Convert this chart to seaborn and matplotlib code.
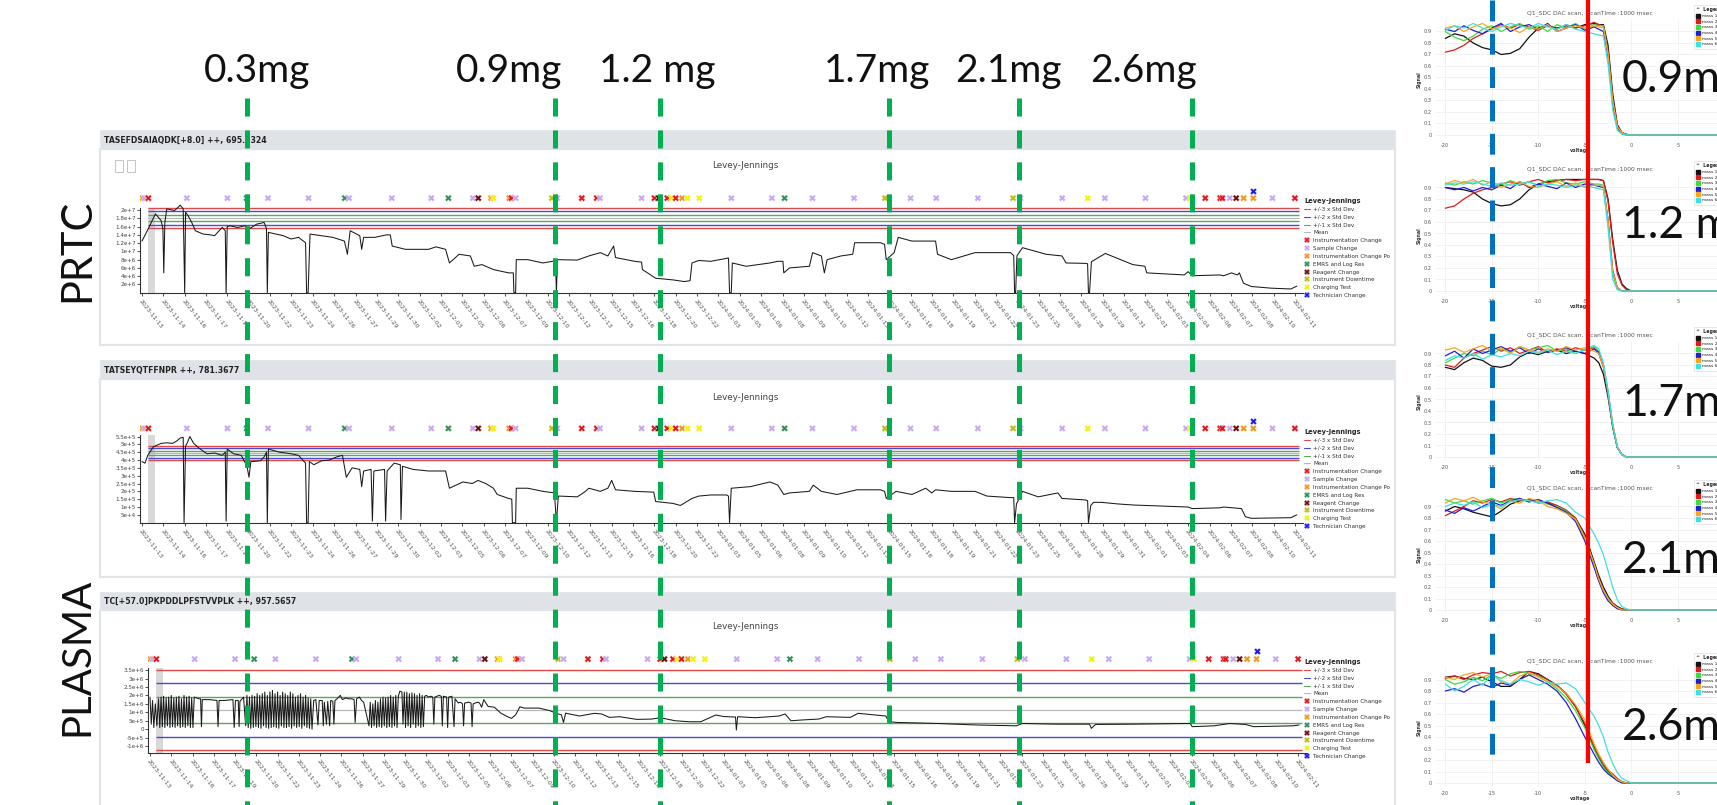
import numpy as np
import pandas as pd
import matplotlib
matplotlib.use("Agg")
import matplotlib.pyplot as plt
from matplotlib.patches import Rectangle
from matplotlib.lines import Line2D
import seaborn as sns

# ---------------- data ----------------
DATES = ["2023-11-13","2023-11-14","2023-11-16","2023-11-17","2023-11-19","2023-11-20","2023-11-22",
         "2023-11-23","2023-11-24","2023-11-26","2023-11-27","2023-11-29","2023-11-30","2023-12-02",
         "2023-12-03","2023-12-05","2023-12-06","2023-12-07","2023-12-09","2023-12-10","2023-12-12",
         "2023-12-13","2023-12-15","2023-12-16","2023-12-18","2023-12-20","2023-12-22","2024-01-03",
         "2024-01-05","2024-01-06","2024-01-08","2024-01-09","2024-01-10","2024-01-12","2024-01-13",
         "2024-01-15","2024-01-16","2024-01-18","2024-01-19","2024-01-21","2024-01-22","2024-01-23",
         "2024-01-25","2024-01-26","2024-01-28","2024-01-29","2024-01-31","2024-02-01","2024-02-03",
         "2024-02-04","2024-02-06","2024-02-07","2024-02-08","2024-02-10","2024-02-11"]

PANEL_TITLES = ["TASEFDSAIAQDK[+8.0] ++, 695.8324", "TATSEYQTFFNPR ++, 781.3677",
                "TC[+57.0]PKPDDLPFSTVVPLK ++, 957.5657"]

# Panel 1 (x = run index, y in units of 1e6)
P1_X = [0.00,0.36,0.63,0.89,0.98,1.02,1.07,1.16,1.52,1.70,1.79,1.93,2.00,2.04,2.15,2.33,2.50,2.86,3.22,3.40,
        3.76,3.90,3.94,3.99,4.11,4.47,4.83,5.01,5.37,5.72,5.83,5.87,5.92,6.62,6.98,7.33,7.66,7.71,7.78,7.87,
        8.41,8.94,9.48,9.62,9.75,10.20,10.29,10.38,10.91,11.45,11.63,11.72,12.34,13.42,13.77,14.22,14.40,
        14.85,15.38,15.56,15.92,16.46,17.17,17.39,17.42,17.50,17.53,18.07,18.78,19.23,19.37,19.41,19.46,
        20.39,20.93,21.47,21.82,22.09,22.18,23.08,23.40,23.44,24.06,24.87,25.40,25.67,25.76,26.08,
        26.64,27.47,27.52,27.60,27.65,28.30,29.41,29.78,30.02,30.06,30.33,31.26,31.41,31.82,31.96,32.09,
        32.74,33.29,33.38,34.59,34.78,34.86,35.23,35.42,36.06,37.17,37.26,37.91,39.02,40.68,40.83,40.87,
        40.92,40.98,41.24,42.35,43.09,43.28,44.20,44.29,44.33,44.38,44.47,45.12,46.41,46.97,47.06,48.82,
        49.00,49.19,50.48,50.66,51.03,51.31,51.40,51.59,51.96,52.88,53.81,54.09]
P1_Y = [12.5,16.2,19.1,17.5,15.5,4.8,17.0,20.3,19.9,20.7,21.2,20.3,0.0,19.5,18.7,17.0,15.0,14.2,14.0,13.8,
        15.8,15.0,0.0,16.0,16.2,15.8,16.2,15.4,16.6,17.0,15.5,0.0,14.6,13.8,13.0,13.4,12.1,0.0,0.0,14.2,
        13.8,13.4,12.5,9.3,15.0,13.8,10.5,13.4,13.4,14.0,14.0,11.3,10.5,10.5,11.1,10.5,7.2,
        9.3,8.9,6.4,6.8,5.6,4.8,4.8,0.0,0.0,8.0,8.0,7.2,7.6,7.6,0.0,8.0,
        7.9,8.9,9.7,8.9,11.3,8.5,7.6,7.4,5.6,3.5,3.1,2.7,2.9,7.2,7.8,
        7.6,8.4,0.0,0.0,7.2,6.4,7.2,7.6,7.6,4.8,6.0,6.4,9.7,8.9,4.8,8.0,
        8.9,9.3,12.1,12.1,11.7,8.0,9.7,13.4,12.5,12.5,9.3,8.0,9.7,9.7,9.0,0.0,
        0.0,8.9,10.9,9.3,8.9,7.2,7.1,7.0,0.0,0.0,7.5,9.5,6.8,6.4,4.8,4.3,
        5.1,4.1,4.3,4.1,4.8,4.3,4.8,2.3,1.5,1.1,0.9,1.6]

# Panel 2 (y in units of 1e5)
P2_X = [0.00,0.14,0.27,0.54,0.89,1.16,1.43,1.61,1.79,1.93,1.97,2.04,2.11,2.24,2.42,2.68,3.04,3.40,3.76,3.90,
        3.94,3.99,4.29,4.65,4.92,5.01,5.10,5.55,5.72,5.83,5.87,5.92,6.44,6.98,7.33,7.66,7.71,7.78,7.84,8.05,
        8.41,8.77,9.12,9.39,9.57,9.84,10.20,10.29,10.38,10.73,10.79,10.86,11.36,11.41,11.48,11.81,12.10,
        12.13,12.20,12.70,13.42,14.22,14.40,15.03,15.47,15.74,15.92,16.10,16.46,16.64,17.17,17.32,17.35,
        17.50,17.53,18.07,18.78,19.32,19.41,19.50,20.39,20.75,20.93,21.47,21.82,22.00,22.18,23.08,23.97,
        24.06,24.87,25.22,25.76,26.08,26.64,27.38,27.47,27.52,27.60,28.49,29.41,29.78,30.06,30.33,31.26,
        31.44,31.82,32.55,33.48,34.59,34.78,34.86,35.32,36.06,36.71,36.99,37.17,37.91,39.02,39.57,40.68,
        40.83,40.87,40.96,41.24,41.98,42.90,43.09,44.20,44.29,44.33,44.44,44.57,44.94,45.68,46.41,49.00,
        49.19,50.48,50.66,51.50,51.68,51.96,53.81,54.09]
P2_Y = [3.9,3.8,4.3,4.85,5.06,5.1,5.06,5.2,5.4,5.45,0.0,4.9,5.06,5.5,5.06,4.75,4.4,4.45,4.3,4.5,
        0.1,4.7,4.4,4.3,3.6,2.9,3.9,3.95,4.2,4.5,0.0,4.7,4.5,4.4,4.3,3.8,0.0,0.0,3.9,3.7,
        3.95,4.0,4.2,4.3,2.9,3.5,3.4,2.3,3.3,3.4,0.1,3.3,3.4,0.1,3.3,3.8,3.7,
        0.2,3.6,3.4,3.3,3.3,2.2,2.6,2.5,2.7,2.6,2.5,2.2,1.8,1.55,1.5,0.0,
        0.0,2.2,2.2,2.0,1.9,0.0,1.7,1.65,1.98,2.2,2.0,2.2,2.7,2.1,2.0,1.95,
        1.35,1.23,1.1,1.55,1.7,1.77,1.77,1.7,0.0,2.2,2.3,2.6,2.4,1.8,1.9,2.0,
        2.4,2.0,1.8,2.1,2.1,2.0,1.55,2.0,1.8,2.2,1.9,2.1,2.0,2.0,1.7,1.6,
        1.6,0.0,1.2,2.0,1.65,1.9,1.55,1.45,1.4,0.0,1.1,1.3,1.3,1.2,1.13,1.0,
        0.9,0.95,1.0,0.9,0.38,0.28,0.32,0.5]

# Panel 3 (y in units of 1e6)
P3_X = [0.00,0.06,0.12,0.18,0.25,0.32,0.40,0.46,0.52,0.58,0.64,0.70,0.76,0.82,0.88,0.94,1.00,1.06,1.12,1.18,
        1.24,1.30,1.36,1.42,1.48,1.54,1.60,1.66,1.72,1.78,1.84,1.90,1.96,2.02,2.08,2.20,2.30,2.38,2.42,2.46,
        2.80,3.15,3.20,3.25,3.50,3.90,3.96,4.02,4.15,4.19,4.23,4.40,4.50,4.56,4.62,4.68,4.74,4.80,4.86,4.92,
        4.98,5.04,5.10,5.16,5.22,5.28,5.34,5.40,5.46,5.52,5.58,5.64,5.70,5.76,5.82,5.88,5.94,6.00,6.06,6.12,
        6.18,6.24,6.30,6.36,6.42,6.48,6.54,6.60,6.66,6.72,6.78,6.84,6.90,6.96,7.02,7.08,7.14,7.20,7.26,7.32,
        7.38,7.44,7.50,7.56,7.62,7.70,7.80,7.90,7.96,8.10,8.15,8.20,8.30,8.36,8.45,8.50,8.60,8.65,8.70,8.80,
        8.95,9.05,9.20,9.35,9.50,9.60,9.65,9.72,9.85,9.95,10.05,10.30,10.36,10.42,10.48,10.54,10.60,10.66,
        10.72,10.78,10.84,10.90,10.96,11.02,11.08,11.14,11.20,11.26,11.32,11.38,11.44,11.50,11.56,11.62,
        11.68,11.75,11.85,11.90,11.96,12.02,12.08,12.14,12.20,12.26,12.32,12.38,12.44,12.50,12.56,12.62,
        12.68,12.74,12.80,12.86,12.92,13.00,13.10,13.20,13.30,13.35,13.40,13.60,13.70,13.75,13.80,13.95,
        14.00,14.05,14.20,14.30,14.35,14.50,14.60,14.70,14.75,14.80,15.00,15.10,15.15,15.20,15.40,15.50,
        15.60,15.70,15.90,16.20,16.50,16.80,17.00,17.20,17.40,17.60,18.30,18.80,19.10,19.35,19.45,19.55,
        20.20,20.90,21.25,21.60,22.10,22.90,23.60,24.00,24.70,25.40,25.90,26.61,26.99,27.54,27.58,27.64,
        28.47,29.59,29.87,30.15,30.71,31.45,31.82,32.94,33.31,34.61,34.76,35.17,37.03,38.89,40.75,41.03,
        42.61,44.19,44.28,44.47,46.33,48.93,49.02,50.05,50.79,51.53,51.91,53.77,54.05]
P3_Y = [1.9,0.3,1.7,0.1,1.5,0.2,1.8,0.1,1.9,0.15,1.95,0.1,1.85,0.2,1.9,0.1,2.0,0.15,1.85,0.1,
        1.9,0.2,1.95,0.1,1.8,0.15,2.0,0.1,1.9,0.2,1.95,0.1,1.85,0.1,1.9,1.85,1.8,1.8,0.15,1.75,
        1.75,1.7,0.15,1.7,1.7,1.75,0.1,1.7,1.7,0.15,1.65,1.9,0.2,2.0,0.1,1.9,0.05,2.0,0.1,1.95,
        0.15,2.1,0.1,2.0,0.05,2.1,0.2,2.2,0.1,2.0,0.05,2.2,0.1,2.3,0.15,2.1,0.1,2.2,0.05,2.0,
        0.2,2.2,0.1,2.1,0.1,2.0,0.15,2.2,0.05,2.1,0.2,1.9,0.1,2.0,0.15,2.1,0.05,1.9,0.2,2.0,
        0.1,1.85,0.05,1.8,0.0,1.7,1.75,0.25,1.7,1.7,0.2,1.6,0.3,1.65,0.2,1.7,1.65,0.3,1.7,1.8,
        2.0,1.75,1.85,1.8,1.8,1.75,0.4,1.8,1.9,1.7,1.6,0.2,1.6,0.1,1.5,0.2,1.7,0.1,
        1.6,0.15,1.8,0.1,1.9,0.2,1.85,0.1,1.9,0.15,2.0,0.1,1.9,0.2,2.0,0.1,
        1.95,2.25,2.2,0.3,2.2,0.1,2.2,0.2,2.1,0.1,2.15,0.3,2.1,0.1,2.0,0.2,
        2.1,0.1,2.0,0.15,1.95,2.0,1.9,1.95,1.9,0.3,1.9,2.0,1.95,0.2,1.95,1.9,
        0.1,1.9,1.95,0.15,1.8,1.55,1.6,1.5,0.2,1.55,1.6,1.55,0.15,1.5,1.6,1.55,
        1.3,1.75,1.35,1.3,0.95,0.75,0.64,0.85,1.33,1.25,1.25,1.1,0.95,0.85,0.4,0.95,
        0.78,0.94,0.9,0.7,0.74,0.58,0.6,0.68,0.5,0.44,0.44,0.84,0.75,0.72,-0.05,0.74,
        0.68,0.78,0.9,0.5,0.55,0.6,0.74,0.7,0.94,0.78,0.44,0.4,0.34,0.25,0.2,0.34,
        0.3,0.3,0.05,0.28,0.3,0.34,0.15,0.2,0.34,0.28,0.15,0.2,0.25]

# Levey-Jennings control limits: mean and standard deviation per panel (same units as series)
LJ_MEAN = [18.1, 4.45, 1.13]
LJ_SD = [0.8, 0.155, 0.79]

P1_YTICKS = [2, 4, 6, 8, 10, 12, 14, 16, 18, 20]
P1_YLABELS = ["2e+6", "4e+6", "6e+6", "8e+6", "1e+7", "1.2e+7", "1.4e+7", "1.6e+7", "1.8e+7", "2e+7"]
P2_YTICKS = [0.5, 1, 1.5, 2, 2.5, 3, 3.5, 4, 4.5, 5, 5.5]
P2_YLABELS = ["5e+4", "1e+5", "1.5e+5", "2e+5", "2.5e+5", "3e+5", "3.5e+5", "4e+5", "4.5e+5", "5e+5", "5.5e+5"]
P3_YTICKS = [-1, -0.5, 0, 0.5, 1, 1.5, 2, 2.5, 3, 3.5]
P3_YLABELS = ["-1e+6", "-5e+5", "0", "5e+5", "1e+6", "1.5e+6", "2e+6", "2.5e+6", "3e+6", "3.5e+6"]

EVENT_POS = [0.02, 0.12, 0.30, 2.1, 4.0, 4.9, 5.9, 7.8, 9.5, 9.7, 11.7, 13.55, 14.35, 15.5, 15.75, 16.35,
             16.45, 17.2, 17.3, 17.5, 19.2, 19.45, 20.6, 21.3, 21.45, 23.4, 24.0, 24.2, 24.6, 24.8, 25.0,
             25.3, 25.55, 26.1, 27.6, 29.5, 30.1, 31.4, 33.35, 34.8, 36.0, 37.2, 39.15, 40.8, 41.15, 43.1,
             44.3, 45.1, 47.0, 48.9, 49.1, 49.8, 50.5, 50.6, 50.95, 51.25, 51.6, 52.05, 52.95, 54.0]
EVENT_TYPE = ["Instrumentation Change Po", "Sample Change", "Instrumentation Change", "Sample Change",
              "Sample Change", "EMRS and Log Res", "Sample Change", "Sample Change", "EMRS and Log Res",
              "Sample Change", "Sample Change", "Sample Change", "EMRS and Log Res", "Sample Change",
              "Reagent Change", "Instrumentation Change Po", "Charging Test", "Instrumentation Change Po",
              "Instrumentation Change", "Sample Change", "Instrument Downtime", "Sample Change",
              "Instrumentation Change", "Instrumentation Change", "Sample Change", "Sample Change",
              "Instrumentation Change", "Reagent Change", "Instrumentation Change", "Charging Test",
              "Instrumentation Change", "Instrumentation Change Po", "Charging Test", "Charging Test",
              "Sample Change", "Sample Change", "EMRS and Log Res", "Sample Change", "Sample Change",
              "Instrument Downtime", "Sample Change", "Sample Change", "Sample Change", "Instrument Downtime",
              "Sample Change", "Sample Change", "Charging Test", "Sample Change", "Sample Change",
              "Sample Change", "Charging Test", "Instrumentation Change", "Instrumentation Change",
              "Instrumentation Change", "Sample Change", "Reagent Change", "Instrumentation Change Po",
              "Instrumentation Change Po", "Sample Change", "Instrumentation Change"]
TECH_POS = [52.05]

EVENT_NAMES = ["Instrumentation Change", "Sample Change", "Instrumentation Change Po", "EMRS and Log Res",
               "Reagent Change", "Instrument Downtime", "Charging Test", "Technician Change"]
EVENT_COLORS = ["#e3141b", "#c6a8f2", "#f0961e", "#2f8f5b", "#6e0b0b", "#bdbb1c", "#f2f20a", "#1b1bf0"]

# DAC scans: voltage grid and signal of six masses per loading
VOLT = [-20, -19, -18, -17, -16, -15, -14, -13, -12, -11, -10, -9, -8, -7, -6, -5, -4,
        -3.5, -3, -2.5, -2, -1.5, -1, -0.5, 0, 10]
SCAN_NAMES = ["mass 1", "mass 2", "mass 3", "mass 4", "mass 5", "mass 6"]
SCAN_COLORS = ["#111111", "#e31a1c", "#3ddc3d", "#1f1fd0", "#f5a623", "#3fe0e0"]
LOADS = ["0.9mg", "1.2 mg", "1.7mg", "2.1mg", "2.6mg"]
TOP_LOADS = ["0.3mg", "0.9mg", "1.2 mg", "1.7mg", "2.1mg", "2.6mg"]

SCAN_09 = [
    [0.84,0.88,0.86,0.80,0.76,0.74,0.70,0.71,0.75,0.85,0.93,0.95,0.93,0.95,0.93,0.96,0.97,0.96,0.96,0.78,0.36,0.09,0.02,0.005,0,0],
    [0.72,0.74,0.78,0.84,0.88,0.92,0.96,0.93,0.96,0.94,0.91,0.95,0.92,0.96,0.93,0.95,0.98,0.96,0.95,0.74,0.32,0.08,0.02,0.005,0,0],
    [0.90,0.85,0.82,0.86,0.92,0.95,0.90,0.94,0.97,0.92,0.95,0.90,0.96,0.93,0.97,0.92,0.96,0.95,0.95,0.70,0.28,0.06,0.01,0,0,0],
    [0.92,0.90,0.95,0.91,0.88,0.93,0.97,0.90,0.94,0.96,0.92,0.97,0.90,0.93,0.96,0.91,0.94,0.92,0.90,0.68,0.27,0.06,0.01,0,0,0],
    [0.93,0.95,0.90,0.94,0.97,0.92,0.95,0.93,0.89,0.94,0.92,0.96,0.90,0.93,0.95,0.93,0.95,0.94,0.93,0.70,0.30,0.07,0.02,0,0,0],
    [0.91,0.95,0.93,0.97,0.93,0.90,0.94,0.97,0.95,0.93,0.97,0.94,0.92,0.96,0.92,0.90,0.88,0.87,0.86,0.62,0.22,0.04,0.01,0,0,0]]
SCAN_12 = [
    [0.90,0.89,0.88,0.86,0.80,0.76,0.74,0.75,0.80,0.88,0.93,0.95,0.96,0.97,0.97,0.97,0.97,0.97,0.96,0.80,0.45,0.18,0.06,0.02,0,0],
    [0.72,0.74,0.80,0.85,0.88,0.90,0.93,0.95,0.92,0.95,0.97,0.94,0.96,0.97,0.96,0.97,0.97,0.97,0.96,0.78,0.42,0.15,0.05,0.01,0,0],
    [0.94,0.92,0.95,0.93,0.96,0.94,0.92,0.96,0.93,0.95,0.92,0.96,0.97,0.94,0.93,0.95,0.93,0.93,0.92,0.60,0.15,0.02,0,0,0,0],
    [0.90,0.88,0.90,0.87,0.90,0.88,0.92,0.89,0.95,0.90,0.93,0.91,0.89,0.94,0.90,0.93,0.92,0.91,0.90,0.62,0.18,0.03,0,0,0,0],
    [0.93,0.96,0.94,0.97,0.92,0.95,0.90,0.93,0.95,0.91,0.90,0.93,0.95,0.91,0.94,0.90,0.92,0.92,0.91,0.62,0.17,0.03,0,0,0,0],
    [0.92,0.94,0.93,0.95,0.93,0.91,0.94,0.92,0.93,0.95,0.91,0.93,0.92,0.90,0.92,0.91,0.90,0.89,0.88,0.55,0.10,0.01,0,0,0,0]]
SCAN_17 = [
    [0.78,0.76,0.82,0.86,0.84,0.79,0.78,0.80,0.87,0.91,0.89,0.92,0.93,0.90,0.92,0.90,0.86,0.82,0.72,0.52,0.26,0.08,0.02,0,0,0],
    [0.80,0.78,0.86,0.90,0.93,0.96,0.92,0.95,0.90,0.93,0.96,0.91,0.94,0.92,0.95,0.93,0.95,0.90,0.78,0.56,0.28,0.09,0.02,0,0,0],
    [0.82,0.86,0.90,0.88,0.92,0.89,0.94,0.91,0.96,0.93,0.95,0.97,0.92,0.94,0.90,0.93,0.96,0.92,0.80,0.55,0.26,0.08,0.02,0,0,0],
    [0.88,0.92,0.86,0.94,0.90,0.93,0.96,0.92,0.95,0.90,0.94,0.91,0.93,0.95,0.92,0.90,0.94,0.91,0.80,0.56,0.27,0.08,0.02,0,0,0],
    [0.93,0.95,0.91,0.94,0.97,0.92,0.95,0.90,0.96,0.93,0.91,0.94,0.92,0.96,0.93,0.95,0.92,0.90,0.79,0.57,0.29,0.09,0.02,0,0,0],
    [0.84,0.88,0.86,0.90,0.85,0.89,0.87,0.90,0.88,0.92,0.90,0.93,0.89,0.92,0.90,0.94,0.97,0.94,0.82,0.58,0.28,0.08,0.02,0,0,0]]
SCAN_21 = [
    [0.86,0.90,0.88,0.85,0.83,0.81,0.86,0.92,0.95,0.96,0.95,0.93,0.90,0.86,0.80,0.66,0.42,0.30,0.20,0.12,0.06,0.03,0.01,0,0,0],
    [0.82,0.86,0.90,0.95,0.93,0.96,0.94,0.97,0.95,0.96,0.93,0.94,0.91,0.87,0.80,0.64,0.40,0.28,0.18,0.10,0.06,0.02,0.01,0,0,0],
    [0.96,0.93,0.95,0.92,0.95,0.97,0.93,0.96,0.97,0.94,0.96,0.92,0.90,0.86,0.78,0.62,0.38,0.26,0.17,0.10,0.04,0.02,0,0,0,0],
    [0.87,0.84,0.89,0.86,0.90,0.94,0.91,0.95,0.97,0.94,0.96,0.93,0.89,0.85,0.77,0.60,0.37,0.25,0.15,0.08,0.04,0.01,0,0,0,0],
    [0.93,0.97,0.95,0.98,0.94,0.92,0.88,0.95,0.93,0.97,0.95,0.90,0.88,0.84,0.79,0.63,0.40,0.27,0.17,0.10,0.05,0.02,0,0,0,0],
    [0.90,0.93,0.91,0.94,0.89,0.92,0.90,0.94,0.96,0.95,0.93,0.95,0.96,0.93,0.85,0.80,0.66,0.58,0.48,0.34,0.20,0.09,0.03,0.01,0,0]]
SCAN_26 = [
    [0.92,0.93,0.91,0.90,0.92,0.88,0.84,0.84,0.90,0.97,0.95,0.90,0.85,0.78,0.67,0.50,0.30,0.22,0.15,0.10,0.06,0.03,0.01,0,0,0],
    [0.91,0.93,0.90,0.94,0.96,0.95,0.97,0.93,0.96,0.97,0.94,0.90,0.85,0.77,0.66,0.52,0.32,0.24,0.17,0.11,0.08,0.04,0.01,0,0,0],
    [0.90,0.86,0.88,0.92,0.89,0.94,0.91,0.95,0.97,0.95,0.93,0.88,0.82,0.74,0.63,0.48,0.29,0.21,0.14,0.09,0.06,0.03,0.01,0,0,0],
    [0.80,0.82,0.79,0.84,0.86,0.83,0.87,0.85,0.90,0.94,0.90,0.86,0.80,0.70,0.56,0.40,0.25,0.18,0.12,0.08,0.05,0.02,0,0,0,0],
    [0.92,0.90,0.94,0.96,0.92,0.95,0.88,0.86,0.93,0.96,0.92,0.88,0.84,0.78,0.68,0.55,0.34,0.25,0.18,0.12,0.07,0.03,0.01,0,0,0],
    [0.86,0.80,0.84,0.90,0.85,0.94,0.89,0.86,0.90,0.88,0.85,0.88,0.86,0.87,0.82,0.70,0.58,0.50,0.40,0.27,0.17,0.09,0.04,0.02,0,0]]
SCANS = [SCAN_09, SCAN_12, SCAN_17, SCAN_21, SCAN_26]

# ---------------- figure ----------------
sns.set_theme(style="white")
plt.rcParams['font.family'] = ['DejaVu Sans']
plt.rcParams['lines.scale_dashes'] = False
NARROW = ['Liberation Sans Narrow', 'DejaVu Sans']
SLIDE = ['Lato', 'DejaVu Sans']

W, H = 1717, 805
fig = plt.figure(figsize=(W / 100, H / 100), dpi=100)
fig.patch.set_facecolor('white')


def px_axes(x0, y0, x1, y1, z=1):
    ax = fig.add_axes([x0 / W, 1 - y1 / H, (x1 - x0) / W, (y1 - y0) / H])
    ax.set_zorder(z)
    ax.patch.set_alpha(0)
    return ax


bg = px_axes(0, 0, W, H, z=0)
bg.set_xlim(0, W)
bg.set_ylim(H, 0)
bg.axis('off')

# panel frames
PANEL_Y = [(130, 149, 345), (360, 379, 577), (592, 610, 812)]
LJ_TEXT_Y = [165, 397, 626]
for k, (h0, h1, b) in enumerate(PANEL_Y):
    bg.add_patch(Rectangle((100, h1), 1295, b - h1, fill=False, ec='#e2e4e7', lw=1.6))
    bg.add_patch(Rectangle((100, h0), 1295, h1 - h0, fc='#dfe3e8', ec='#dfe3e8', lw=0.5))
    bg.text(104, (h0 + h1) / 2 + 0.5, PANEL_TITLES[k], fontsize=5.6, fontweight='bold',
            va='center', ha='left', color='#222222', family=NARROW)
    bg.text(745, LJ_TEXT_Y[k], "Levey-Jennings", fontsize=6.3, va='center', ha='center',
            color='#444444', family=NARROW)
# small export icons of panel 1
for x0 in (115, 127):
    bg.add_patch(Rectangle((x0, 160), 8, 12, fill=False, ec='#c4c4c4', lw=0.7))

LJ_COLORS = {3: '#e04848', 2: '#4848dc', 1: '#5aa85a', 0: '#b8b8b8'}
cmap = dict(zip(EVENT_NAMES, EVENT_COLORS))

# axis geometry per panel (pixels): x0 of index 0, px per index, y of value vb, px per unit
GEOM = [dict(x0=142, sx=21.35, yb=292.7, vb=0.0, sy=4.13, top=25.5, marker=22.9, tech=24.6, spine=20.5),
        dict(x0=142, sx=21.35, yb=522.7, vb=0.0, sy=15.67, top=6.9, marker=6.02, tech=6.49, spine=5.6),
        dict(x0=150, sx=21.26, yb=752.7, vb=-1.39, sy=16.9, top=5.0, marker=4.15, tech=4.62, spine=3.6)]
SERIES = [(P1_X, P1_Y), (P2_X, P2_Y), (P3_X, P3_Y)]
TICKS = [(P1_YTICKS, P1_YLABELS), (P2_YTICKS, P2_YLABELS), (P3_YTICKS, P3_YLABELS)]
LEG_Y = [198, 429, 659]

for k in range(3):
    g = GEOM[k]
    xl, xr = -0.1, 54.4
    left = g['x0'] + xl * g['sx']
    right = g['x0'] + xr * g['sx']
    top_px = g['yb'] - (g['top'] - g['vb']) * g['sy']
    ax = px_axes(left, top_px, right, g['yb'], z=3)
    ax.set_xlim(xl, xr)
    ax.set_ylim(g['vb'], g['top'])
    # grey band of first run
    ax.add_patch(Rectangle((0.27, g['vb']), 0.36, g['spine'] - g['vb'], fc='#d9d9d9', ec='none', zorder=1))
    # control limits
    m, s = LJ_MEAN[k], LJ_SD[k]
    for n in (3, 2, 1):
        for sign in (1, -1):
            ax.hlines(m + sign * n * s, 0.3, 54.2, color=LJ_COLORS[n], lw=1.0, zorder=2)
    ax.hlines(m, 0.3, 54.2, color=LJ_COLORS[0], lw=0.9, zorder=2)
    # series
    xs, ys = SERIES[k]
    sns.lineplot(x=xs, y=ys, ax=ax, sort=False, estimator=None, color='#1a1a1a', lw=0.75, zorder=4)
    # events
    ev = pd.DataFrame({'pos': EVENT_POS, 'type': EVENT_TYPE})
    ev['y'] = g['marker']
    sns.scatterplot(data=ev, x='pos', y='y', hue='type', palette=cmap, marker='X', s=24,
                    linewidth=0.2, edgecolor='#ffffff', legend=False, ax=ax, zorder=5)
    tech = pd.DataFrame({'pos': TECH_POS, 'y': [g['tech']] * len(TECH_POS)})
    sns.scatterplot(data=tech, x='pos', y='y', color=EVENT_COLORS[-1], marker='X', s=24,
                    linewidth=0.2, edgecolor='#ffffff', legend=False, ax=ax, zorder=5)
    # axes styling
    ax.set_xticks(range(len(DATES)))
    ax.set_xticklabels(DATES, rotation=-52, ha='left', va='top', rotation_mode='anchor',
                       fontsize=4.4, color='#555555')
    ax.set_yticks(TICKS[k][0])
    ax.set_yticklabels(TICKS[k][1], fontsize=4.1, color='#444444')
    ax.tick_params(axis='x', length=2.5, width=0.6, pad=2, color='#333333', bottom=True)
    ax.tick_params(axis='y', length=2, width=0.6, pad=1, color='#333333', left=True)
    ax.set_xlabel('')
    ax.set_ylabel('')
    for sp in ('top', 'right'):
        ax.spines[sp].set_visible(False)
    ax.spines['left'].set_bounds(g['vb'], g['spine'])
    for sp in ('left', 'bottom'):
        ax.spines[sp].set_color('#333333')
        ax.spines[sp].set_linewidth(0.8)
    ax.grid(False)
    # legend
    handles = [Line2D([], [], color=LJ_COLORS[3], lw=0.8), Line2D([], [], color=LJ_COLORS[2], lw=0.8),
               Line2D([], [], color=LJ_COLORS[1], lw=0.8), Line2D([], [], color=LJ_COLORS[0], lw=0.8)]
    labels = ["+/-3 x Std Dev", "+/-2 x Std Dev", "+/-1 x Std Dev", "Mean"]
    for nm, c in zip(EVENT_NAMES, EVENT_COLORS):
        handles.append(Line2D([], [], ls='', marker='X', color=c, ms=3.8, mew=0))
        labels.append(nm)
    leg = ax.legend(handles, labels, loc='upper left', bbox_to_anchor=(1304 / W, 1 - LEG_Y[k] / H),
                    bbox_transform=fig.transFigure, frameon=False, fontsize=4.1, title='Levey-Jennings',
                    title_fontproperties={'weight': 'bold', 'size': 4.8}, handlelength=1.1,
                    handletextpad=0.5, labelspacing=0.5, borderpad=0, borderaxespad=0,
                    alignment='left')
    for t in leg.get_texts():
        t.set_color('#333333')

# ---------------- DAC scans ----------------
ZERO_Y = [135, 291, 457, 610, 783]
PX_PER_UNIT_Y = 115.0
for k in range(5):
    z = ZERO_Y[k]
    top_px = z - 1.0 * PX_PER_UNIT_Y
    bot_px = z + 0.03 * PX_PER_UNIT_Y
    ax = px_axes(1436, top_px, 1436 + 31 * 9.3, bot_px, z=4)
    ax.patch.set_alpha(1)
    ax.patch.set_facecolor('white')
    ax.set_xlim(-21, 10)
    ax.set_ylim(-0.03, 1.0)
    rows = []
    for name, vals in zip(SCAN_NAMES, SCANS[k]):
        rows.append(pd.DataFrame({'voltage': VOLT, 'Signal': vals, 'mass': name}))
    df = pd.concat(rows, ignore_index=True)
    sns.lineplot(data=df, x='voltage', y='Signal', hue='mass', palette=dict(zip(SCAN_NAMES, SCAN_COLORS)),
                 estimator=None, sort=False, lw=0.9, ax=ax, legend=False)
    ax.set_xticks([-20, -15, -10, -5, 0, 5, 10])
    ax.set_xticklabels(['-20', '-15', '-10', '-5', '0', '5', '10'], fontsize=3.6, color='#555555')
    ax.set_yticks([0, 0.1, 0.2, 0.3, 0.4, 0.5, 0.6, 0.7, 0.8, 0.9])
    ax.set_yticklabels(['0', '0.1', '0.2', '0.3', '0.4', '0.5', '0.6', '0.7', '0.8', '0.9'],
                       fontsize=3.6, color='#555555')
    ax.tick_params(length=0, pad=3)
    ax.grid(True, color='#efefef', lw=0.6)
    for sp in ax.spines.values():
        sp.set_visible(False)
    ax.set_xlabel('voltage', fontsize=3.4, fontweight='bold', labelpad=0.5, color='#333333')
    ax.set_ylabel('Signal', fontsize=3.4, fontweight='bold', labelpad=1.5, color='#333333')
    ax.set_title("Q1_SDC DAC scan,  scanTime :1000 msec", fontsize=4.3, color='#555555', pad=4, x=0.535)
    hs = [Line2D([], [], ls='', marker='s', color=c, ms=2.6) for c in SCAN_COLORS]
    lg = ax.legend(hs, SCAN_NAMES, loc='upper left', bbox_to_anchor=(1692 / W, 1 - (top_px - 17) / H),
                   bbox_transform=fig.transFigure, fontsize=3.2, title='^  Legend',
                   title_fontproperties={'weight': 'bold', 'size': 3.4}, frameon=True,
                   handlelength=0.8, handletextpad=0.4, labelspacing=0.35, borderpad=0.5,
                   alignment='left', fancybox=False)
    lg.get_frame().set_edgecolor('#dddddd')
    lg.get_frame().set_linewidth(0.6)

# ---------------- slide annotations ----------------
fg = px_axes(0, 0, W, H, z=20)
fg.set_xlim(0, W)
fg.set_ylim(H, 0)
fg.axis('off')

GREEN_X = [247, 555, 660, 889, 1019, 1192]
LABEL_X = [257, 509, 657, 877, 1008, 1143]
for x in GREEN_X:
    fg.plot([x, x], [98, H], color='#00b050', lw=3.6, ls=(0, (13, 10)), solid_capstyle='butt',
            dash_capstyle='butt')
for x, lab in zip(LABEL_X, TOP_LOADS):
    fg.text(x, 71, lab, fontsize=28, ha='center', va='center', family=SLIDE, color='#111111')

fg.plot([1492, 1492], [0, 758], color='#0070c0', lw=3.6, ls=(0, (15, 9)), dash_capstyle='butt')
fg.plot([1588, 1588], [0, 763], color='#ff0000', lw=3.0, solid_capstyle='butt')

BIG_Y = [80, 225, 403, 560, 727]
for y, lab in zip(BIG_Y, LOADS):
    fg.text(1622, y, lab, fontsize=32, ha='left', va='center', family=SLIDE, color='#111111')

fg.text(77, 250, "PRTC", fontsize=30, rotation=90, ha='center', va='center', family=SLIDE, color='#111111')
fg.text(77, 657, "PLASMA", fontsize=29, rotation=90, ha='center', va='center', family=SLIDE, color='#111111')

fig.savefig('out.png', dpi=100, facecolor='white')
